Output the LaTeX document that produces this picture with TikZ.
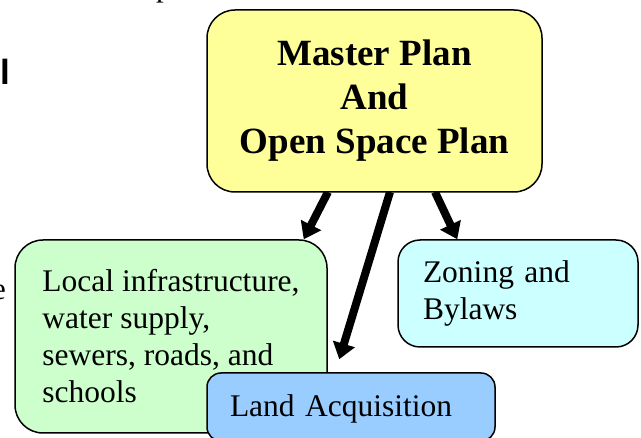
\documentclass[tikz,border=0pt]{standalone}
\usepackage{fontspec}
\setmainfont{Liberation Serif}
\newfontfamily\arialfont{Liberation Sans}
\usetikzlibrary{arrows.meta}
\definecolor{ylw}{HTML}{FFFF99}
\definecolor{grn}{HTML}{CCFFCC}
\definecolor{cyn}{HTML}{CCFFFF}
\definecolor{blu}{HTML}{99CCFF}
\begin{document}
\begin{tikzpicture}[x=1pt,y=-1pt,
  box/.style={draw=black, line width=1.5pt, rounded corners=28pt, inner ysep=0pt},
  bodytext/.style={font=\fontsize{31.5}{37}\selectfont},
  bigarrow/.style={line width=8pt, -{Triangle[width=22pt,length=16pt]}},
  frag/.style={inner sep=0pt}]
\useasboundingbox (0,0) rectangle (641,438);
% fragments of text cut by the frame
\node[frag, anchor=base west, font=\fontsize{31}{36}\selectfont] (fp) at (156,-3.5) {p};
\node[frag, anchor=base east, font=\arialfont\bfseries\fontsize{35}{40}\selectfont] (fl) at (10.2,85) {al};
\node[frag, anchor=base east, font=\fontsize{31}{36}\selectfont] (fe) at (6,300) {e};
% boxes
\node[box, fill=grn, bodytext, minimum width=312pt, minimum height=193pt,
      inner xsep=10pt, align=left] (g) at (171,336.5)
  {Local infrastructure,\\water supply,\\sewers, roads, and\\schools};
\node[box, fill=blu, bodytext, rounded corners=14pt, minimum width=288pt, minimum height=68pt,
      text width=242pt, inner xsep=23pt, align=left, text height=25pt] (la) at (351,407)
  {Land Acquisition};
\node[box, fill=cyn, bodytext, rounded corners=22pt, minimum width=240pt, minimum height=107pt,
      text width=190pt, inner xsep=25pt, align=left] (z) at (518,293.5)
  {Zoning and\\Bylaws};
% the plan box and arrows
\coordinate (ytop) at (374.5,101);
\draw[bigarrow] ([xshift=-46.5pt,yshift=-91pt]ytop) -- ([xshift=-24pt]g.north east);
\draw[bigarrow] ([xshift=15.5pt,yshift=-91pt]ytop) -- ([xshift=133pt,yshift=13pt]la.north west);
\draw[bigarrow] ([xshift=60.5pt,yshift=-91pt]ytop) -- ([xshift=60pt]z.north west);
\node[box, fill=ylw, minimum width=335pt, minimum height=182pt, align=center,
      font=\bfseries\fontsize{37}{44}\selectfont] (m) at (ytop)
  {Master Plan\\And\\Open Space Plan};
\end{tikzpicture}
\end{document}
